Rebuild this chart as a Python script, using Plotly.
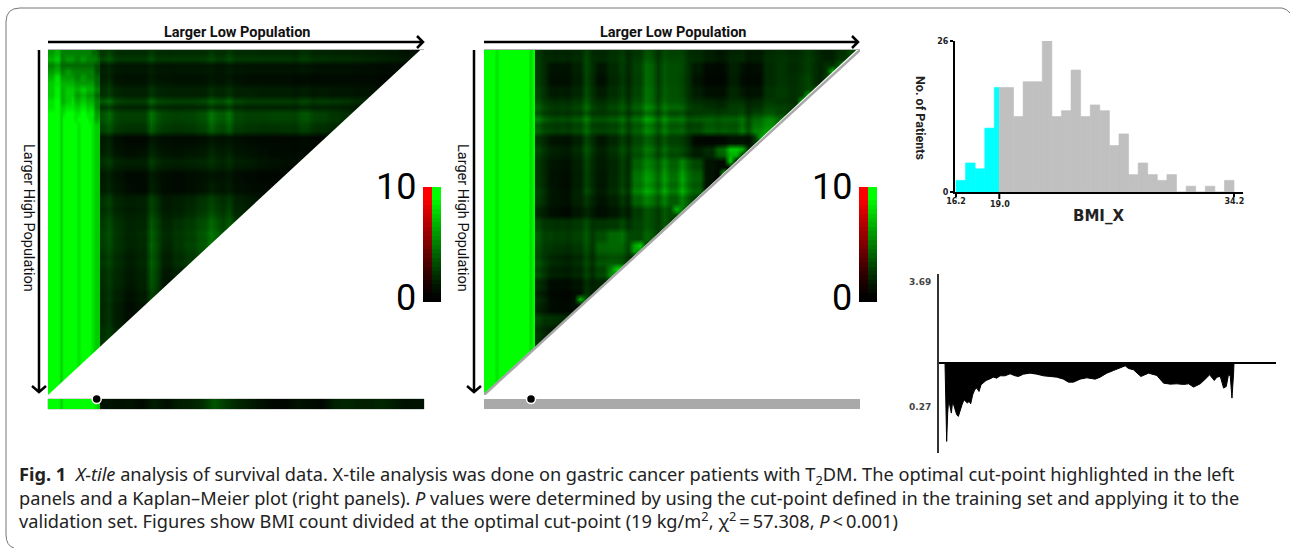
import plotly.graph_objects as go

W, H = 1290, 548

# ---------- data ----------
# X-tile maps: chi-square intensity 0-10. Rows run top to bottom, each row stops at the diagonal.
left_strip_top = [
    [6,6,7,7,5,5,5,5,5,5,5,5,5,5,5,4,4,3],
    [7,7,8,8,5,5,6,6,6,5,5,6,6,5,5,5,5,4],
    [5,5,6,6,4,4,4,4,4,4,4,4,4,4,4,4,3,3],
    [6,6,7,7,5,5,6,6,5,5,5,5,5,5,5,5,3,3],
    [7,7,9,9,6,6,6,6,6,5,5,6,6,5,5,5,4,4],
    [8,8,9,9,7,7,7,7,7,6,6,6,6,6,6,6,4,4],
    [8,8,9.5,9.5,7,7,8,8,8,7,7,8,8,7,7,7,5,5],
    [8,8,9.5,9.5,7,7,8,8,8,6,6,7,7,6,6,6,4,4],
    [9,9,10,10,7,7,8,8,9,7,7,8,8,7,7,7,5,5],
    [9,9,10,10,8,8,9,9,9,8,8,9,9,8,8,8,5,5],
    [10,10,10,10,8,9,10,10,10,9,9,10,10,9,9,9,6,6],
    [10,10,10,10,8,10,10,10,10,9,10,10,10,10,9,9,6,7],
]
left_strip_body = [10,10,10,10,8,10,10,10,10,10,9,10,10,10,10,9,8,8]
right_strip_body = [10,10,10,10,9,10,10,10,10,10,10,10,10,10,10,10,8.5,10]

left_rows = [
    [2.0,1.6,1.5,1.5,1.6,1.5,1.5,1.5,1.5,1.6,1.6,1.5,1.5,1.4,1.4,1.4,1.4,1.4,1.3,1.2,1.2,1.1,1.0,.9,.8,.6,.5],
    [1.2,.9,.8,.8,.9,.8,.8,.8,.8,.8,.8,.8,.7,.7,.7,.7,.7,.7,.6,.6,.6,.5,.5,.4,.4,.3],
    [1.0,.6,.5,.5,.7,.6,.5,.5,.5,.6,.6,.5,.4,.4,.4,.4,.3,.3,.3,.3,.3,.3,.3,.2,.2],
    [1.6,1.2,1.0,1.0,1.3,1.1,1.0,1.0,1.0,1.2,1.2,1.0,1.0,.9,.9,.9,.8,.8,.8,.7,.7,.6,.6,.5],
    [2.2,1.7,1.4,1.4,1.9,1.6,1.5,1.5,1.6,1.9,1.9,1.6,1.4,1.4,1.4,1.4,1.4,1.4,1.4,1.3,1.2,1.0,.9],
    [2.6,2.0,1.8,1.8,2.6,2.0,1.8,1.9,2.2,2.8,2.6,2.0,1.8,1.8,1.9,1.9,2.0,2.1,1.8,1.5,1.3,1.0],
    [2.4,1.9,1.6,1.6,2.5,1.9,1.7,1.8,2.1,2.6,2.4,1.9,1.7,1.6,1.6,1.7,1.8,1.8,1.5,1.3,1.1],
    [1.0,.5,.3,.3,.7,.5,.4,.4,.5,.7,.6,.5,.4,.3,.3,.3,.3,.3,.2,.2],
    [1.0,.6,.4,.5,.9,.6,.5,.6,.7,.9,.8,.6,.5,.4,.3,.3,.3,.2,.2],
    [1.5,1.1,.9,.9,1.4,1.0,.9,1.0,1.1,1.2,1.1,.9,.8,.6,.5,.4,.4,.3],
    [.9,.6,.3,.3,.7,.4,.3,.4,.5,.6,.6,.4,.3,.2,.2,.2,.2],
    [1.0,.7,.4,.3,.8,.4,.3,.4,.6,.8,.7,.5,.4,.3,.3,.3],
    [1.7,1.2,.9,1.0,1.6,.8,.9,1.1,1.5,1.7,1.4,1.0,.8,.6,.5],
    [1.6,1.2,.9,1.0,1.7,.9,1.0,1.3,1.7,2.0,1.7,1.2,.9,.7],
    [2.0,1.6,1.1,1.2,2.2,1.2,1.5,1.8,2.3,2.7,2.2,1.7,1.3],
    [2.1,1.6,1.1,1.3,2.3,1.3,1.6,1.9,2.5,3.0,2.6,2.2],
    [1.9,1.5,1.0,1.2,2.3,1.1,1.5,1.9,2.4,2.9,2.6],
    [1.8,1.4,.9,1.2,2.3,1.0,1.4,1.8,2.2,2.6],
    [1.6,1.3,.8,1.1,2.2,.8,1.1,1.6,1.8],
    [1.5,1.2,.7,1.0,2.0,.6,.9,1.2],
    [1.4,1.0,.5,.8,1.6,.5,.7],
    [1.4,.9,.4,.7,1.2,.5],
    [1.4,.9,.4,.7,1.2],
    [1.6,1.1,.6,.9],
    [1.8,1.2],
]
right_rows = [
    [1.5,1.3,1.3,1.4,1.8,1.3,1.6,1.6,1.8,2.4,2.0,2.2,1.8,1.4,1.0,.8,1.2,1.0,.9,1.3,1.6,1.4,1.6,1.3,1.0,1.6,2.5],
    [1.5,.6,.6,1.0,1.8,.7,1.3,1.5,2.0,2.8,2.2,2.4,1.8,.8,.3,.3,1.0,.4,.4,1.2,1.6,1.3,1.6,1.2,1.5,2.5],
    [1.5,.5,.5,.9,1.7,.5,1.2,1.4,1.9,2.8,2.2,2.4,1.7,.6,.2,.2,.9,.3,.3,1.2,1.6,1.4,1.8,1.2,2.0],
    [1.7,.9,.9,1.2,1.9,.9,1.4,1.6,2.1,3.0,2.3,2.5,1.8,.9,.5,.5,1.2,.6,.6,1.4,1.8,1.5,1.8,2.0],
    [2.0,1.5,1.5,1.7,2.2,1.4,1.8,1.9,2.4,3.0,2.5,2.6,2.0,1.4,1.2,1.1,1.5,1.2,1.2,1.6,1.6,1.4,3.5],
    [2.6,2.0,2.0,2.2,2.6,2.0,2.3,2.3,2.8,3.5,3.0,2.8,2.4,2.2,2.4,2.4,2.4,2.2,2.6,3.0,2.6,2.0],
    [2.2,1.8,1.8,2.0,2.4,1.8,2.0,2.2,2.6,3.2,2.8,2.6,2.2,2.0,2.6,2.6,2.4,2.6,3.6,4.0,3.0],
    [1.4,.7,.6,1.0,1.8,.7,1.2,1.6,2.2,2.6,2.2,2.0,1.5,.3,.2,.3,.6,.5,1.6,3.5],
    [1.6,1.0,.8,1.2,1.9,.9,1.4,1.8,2.3,2.8,2.4,2.2,1.6,.8,1.2,3.0,5.5,1.5,1.0],
    [1.4,.7,.5,1.0,1.7,.8,1.2,1.6,3.0,3.5,3.4,3.0,3.4,2.2,.6,.4,.3,.6],
    [1.4,.6,.4,.9,1.6,.7,1.2,1.6,3.5,4.0,3.8,3.4,4.0,2.8,.6,.2,.4],
    [1.4,.6,.4,.9,1.6,.7,1.2,1.6,3.4,3.8,3.6,3.2,3.8,2.6,.5,.3],
    [1.5,.7,.5,1.0,1.4,.6,1.0,1.4,3.0,3.4,3.2,2.8,3.2,2.0,.8],
    [1.0,.5,.3,.7,1.0,.4,.7,1.0,1.8,2.2,2.2,2.2,3.0,5.0],
    [1.8,1.6,1.6,1.7,1.9,1.6,1.7,1.8,2.0,2.2,2.2,2.0,2.2],
    [2.2,2.0,1.9,2.0,2.2,2.4,3.2,2.8,2.2,2.6,2.2,3.0],
    [2.4,2.0,1.8,2.0,2.4,3.6,3.8,3.0,6.0,2.0,2.0],
    [1.8,1.2,1.0,1.2,1.6,2.2,2.4,1.8,1.2,1.0],
    [1.6,.9,.8,1.0,1.4,1.8,3.5,5.5,1.0],
    [1.0,.3,.3,.5,1.0,1.0,1.2,.8],
    [1.0,.3,.2,.4,1.6,.8,.6],
    [1.0,.4,.3,.5,1.4,.6],
    [1.8,1.6,1.4,4.5,2.0],
    [1.2,.8,.6,1.4],
    [1.2,1.0,2.5],
]
# fine stripes across the coarse cells: two sub-columns per cell, two sub-rows per cell
left_col_stripes = [.9,1.15,1,.9,1,1,1,1,1.25,.9,1,.95,1,1,1,1,1,1.05,1.2,.95,.95,1.25,1,1,1,1,1,1,1,1,1,1,.9,1.15,1.15,.9,1,1,1,1,1,1,1,1,1,1,1,1,1,1,1,1,1,1]
left_row_stripes = [.9,1.2,.8,.9,1,1.25,1,1,1.35,.75,1.1,1.1,1,.9,.8,1,1,1.2,1.1,.9,1,1,1,1,.95,1.05,.95,1.1,1,1,1.05,1,1.1,1,.95,1.05,1,.95,1.05,1,1,1.05,.95,1,1,1,1,1,1,1]
right_col_stripes = [1.25,.9,1,.9,1,.9,1,1,1.25,.8,1,1,1,1,1.25,.8,1,1,1.2,1.05,.8,1.25,1,1,1.25,.85,1,1,1,1,.9,1,1,1,1.3,.8,1,1,1.1,1.1,1,1,1,1,1,1.2,1.2,.9,1,1,1,1,1,1]
right_row_stripes = [.9,1,1,1,1,1,1,1,1,1.25,.8,1.25,1,1.15,.95,1,1.15,1,1,1,1,1.05,1,1.2,1,1,1,1,1,1,1,1,.85,.8,1,1.2,1.1,1.25,1.15,1.25,.8,1.2,1,.85,1,.9,1,1.15,1,1]
# small bright spots along the right diagonal: (sub-row, sub-column, value)
right_hot_spots = [(2,51,7),(3,49,7),(7,45,7),(8,44,7),(14,38,7),(14,37,6),(16,34,7),(18,32,8),(20,31,7),(26,23,7),(32,17,8),(36,13,8),(41,7,7)]
left_bar_green = [10,10,10,10,8,10,10,10,10,10,10,10,10,10,10,10,9,8]
left_bar_dark = [.6,.5,.6,.3,.9,.4,.9,1.0,1.4,2.6,1.8,1.2,.8,.5,.2,.2,.6,.4,.2,1.0,1.2,1.0,1.0,1.2,.8,.5,.6]
scale_levels = [0,.2,.5,.8,1.2,1.6,2,2.4,2.9,3.3,3.8,4.2,4.7,5.1,5.6,6,6.5,7,7.4,7.9,8.4,8.9,9.4,10,10,10]
map_gain = 1.25

# Histogram of BMI
bmi_low_counts = [2, 5, 4, 11, 18]
bmi_high_counts = [18, 18, 13, 19, 19, 26, 13, 14, 21, 13, 15, 14, 8, 10, 3, 5, 3, 2, 3, 0, 1, 0, 1, 0, 2]
bmi_start, bmi_bin, bmi_cut, bmi_end = 16.2, 0.62, 19.0, 34.2

# Hazard curve: rank along the cut points, signed height from baseline
curve_rank = [135,136,138,140,143,146,150,154,158,162,166,170,175,180,186,192,197,202,207,212,218,224,230,237,243,250,258,268,280,290,300,315,330,345,355,370,390,410,430,450,470,490,505,520,540,560,585,600,620,640,660,675,685,700,722,745,770,790,810,830,850,865,880,900,915,928,942,950,960,970,978,985,990,995,1000,1001]
curve_height = [0,-40,-205,-235,-150,-110,-130,-150,-115,-130,-140,-155,-160,-140,-125,-110,-115,-120,-115,-122,-95,-80,-75,-85,-65,-60,-52,-48,-42,-45,-38,-38,-32,-38,-40,-33,-30,-33,-38,-40,-42,-48,-57,-57,-48,-44,-48,-42,-30,-22,-15,-8,-16,-20,-40,-30,-37,-60,-63,-62,-64,-62,-72,-62,-48,-35,-52,-42,-40,-75,-70,-32,-40,-105,-30,0]
curve_ticks = [243, -130]
curve_labels = ["3.69", "0.27"]

# ---------- helpers ----------
def px(x): return x / W
def py(y): return 1 - y / H
def dom_x(a, b): return [px(a), px(b)]
def dom_y(top, bottom): return [py(bottom), py(top)]

RGB = [[0, "#ff0000"], [0.5, "#000000"], [1, "#00ff00"]]
NO = dict(visible=False, fixedrange=True)
SANS = "Roboto"
fig = go.Figure()

def heat(z, xa, ya, x0, dx, y0, dy, smooth="best"):
    fig.add_trace(go.Heatmap(z=z, x0=x0, dx=dx, y0=y0, dy=dy, xaxis=xa, yaxis=ya, colorscale=RGB,
                             zmin=-10, zmax=10, showscale=False, zsmooth=smooth, hoverinfo="skip"))

def pad(rows, n=27):
    return [r + [r[-1]] * (n - len(r)) for r in rows]

def refine(rows, col_stripes, row_stripes, hot=()):
    out = []
    for i, r in enumerate(pad(rows)):
        for m in range(2):
            out.append([min(10, r[j] * map_gain * col_stripes[2 * j + k] * row_stripes[2 * i + m])
                        for j in range(27) for k in range(2)])
    for row, col, v in hot:
        out[row][col] = v
    return out

def triangle(xa, ya, x_cut, fine, strip):
    dx_d = 6 / 376 * 100
    dy_d = 6 / 345 * 100
    heat(fine, xa, ya, x_cut + dx_d / 2, dx_d, dy_d / 2, dy_d)
    dx_s = x_cut / 18
    heat(strip, xa, ya, dx_s / 2, dx_s, dy_d / 2, dy_d)
    fig.add_trace(go.Scatter(x=[100, 100, -1, 100], y=[-1, 101, 101, -1], xaxis=xa, yaxis=ya, mode="lines",
                             fill="toself", fillcolor="#ffffff", line=dict(width=0, color="#ffffff"), hoverinfo="skip"))

n_strip_rows = 58
left_cut = 52 / 376 * 100
right_cut = 51 / 376 * 100
triangle("x", "y", left_cut, refine(left_rows, left_col_stripes, left_row_stripes),
         left_strip_top + [left_strip_body] * (n_strip_rows - len(left_strip_top)))
triangle("x3", "y3", right_cut, refine(right_rows, right_col_stripes, right_row_stripes, right_hot_spots),
         [right_strip_body] * n_strip_rows)
fig.add_trace(go.Scatter(x=[0, 100], y=[100, 0], xaxis="x3", yaxis="y3", mode="lines",
                         line=dict(color="#a8a8a8", width=2.5), hoverinfo="skip"))

# position bars
dx_d = 12 / 376 * 100
heat([left_bar_green], "x2", "y2", left_cut / 36, left_cut / 18, 0, 1)
heat([[min(10, v * map_gain) for v in left_bar_dark]], "x2", "y2", left_cut + dx_d / 2, dx_d, 0, 1)

# cut-point dots
for xa, ya, xv in (("x2", "y2", 12.95), ("x4", "y4", 12.5)):
    fig.add_trace(go.Scatter(x=[xv], y=[0.5], xaxis=xa, yaxis=ya, mode="markers", cliponaxis=False,
                             marker=dict(size=9, color="#000000", line=dict(color="#ffffff", width=1.5)), hoverinfo="skip"))

# colour scales
scale_z = [[-v, v] for v in scale_levels]
heat(scale_z, "x5", "y5", 0, 1, 0, 1, False)
heat(scale_z, "x6", "y6", 0, 1, 0, 1, False)

# histogram
low_edges = [bmi_start + bmi_bin * i for i in range(len(bmi_low_counts))]
low_widths = [bmi_bin] * (len(bmi_low_counts) - 1) + [bmi_cut - low_edges[-1]]
high_edges = [bmi_cut] + [bmi_start + bmi_bin * (i + 4) for i in range(1, len(bmi_high_counts))]
high_widths = [low_edges[-1] + bmi_bin - bmi_cut] + [bmi_bin] * (len(bmi_high_counts) - 1)
fig.add_trace(go.Bar(x=low_edges, y=bmi_low_counts, width=low_widths, offset=0, marker=dict(color="#00ffff", line=dict(width=0.6, color="#00ffff")),
                     xaxis="x7", yaxis="y7", hoverinfo="skip"))
fig.add_trace(go.Bar(x=high_edges, y=bmi_high_counts, width=high_widths, offset=0, marker=dict(color="#c0c0c0", line=dict(width=0.6, color="#c0c0c0")),
                     xaxis="x7", yaxis="y7", hoverinfo="skip"))

# hazard curve
fig.add_trace(go.Scatter(x=curve_rank, y=curve_height, xaxis="x8", yaxis="y8", mode="lines", fill="tozeroy",
                         fillcolor="#000000", line=dict(color="#000000", width=1), hoverinfo="skip"))

# ---------- axes ----------
layout = dict(
    template="none",
    width=W, height=H, margin=dict(l=0, r=0, t=0, b=0, pad=0, autoexpand=False), paper_bgcolor="#ffffff", plot_bgcolor="#ffffff",
    showlegend=False, barmode="overlay",
    xaxis=dict(domain=dom_x(48, 424), range=[0, 100], side="top", showline=True, linecolor="#b5b5b5", linewidth=1,
               showticklabels=False, ticks="", showgrid=False, zeroline=False, fixedrange=True, anchor="y"),
    yaxis=dict(domain=dom_y(50, 395), range=[100, 0], visible=False, fixedrange=True, anchor="x"),
    xaxis2=dict(domain=dom_x(48, 424), range=[0, 100], anchor="y2", **NO),
    yaxis2=dict(domain=dom_y(399, 409), range=[-0.5, 0.5], anchor="x2", **NO),
    xaxis3=dict(domain=dom_x(484, 860), range=[0, 100], side="top", showline=True, linecolor="#b5b5b5", linewidth=1,
                showticklabels=False, ticks="", showgrid=False, zeroline=False, fixedrange=True, anchor="y3"),
    yaxis3=dict(domain=dom_y(50, 395), range=[100, 0], visible=False, fixedrange=True, anchor="x3"),
    xaxis4=dict(domain=dom_x(484, 860), range=[0, 100], anchor="y4", **NO),
    yaxis4=dict(domain=dom_y(399, 409), range=[-0.5, 0.5], anchor="x4", **NO),
    xaxis5=dict(domain=dom_x(423, 441), range=[-0.5, 1.5], anchor="y5", **NO),
    yaxis5=dict(domain=dom_y(187, 302), range=[-0.5, len(scale_levels) - 0.5], anchor="x5", **NO),
    xaxis6=dict(domain=dom_x(859, 877), range=[-0.5, 1.5], anchor="y6", **NO),
    yaxis6=dict(domain=dom_y(187, 302), range=[-0.5, len(scale_levels) - 0.5], anchor="x6", **NO),
    xaxis7=dict(domain=dom_x(955, 1243), range=[16.135, 34.76], anchor="y7", showline=True, linecolor="#000000", linewidth=2,
                tickvals=[16.2, 34.2], ticktext=["16.2", "34.2"], ticks="outside", ticklen=3, tickwidth=2, tickcolor="#000000",
                ticklabelstandoff=-3,
                tickfont=dict(family="DejaVu Sans", size=8, color="#222222", weight="bold"), showgrid=False, zeroline=False, fixedrange=True),
    yaxis7=dict(domain=dom_y(41, 192), range=[0, 26], anchor="x7", showline=True, linecolor="#000000", linewidth=2,
                tickvals=[0, 26], ticktext=["0", "26"], ticks="outside", ticklen=3, tickwidth=2, tickcolor="#000000",
                tickfont=dict(family="DejaVu Sans", size=8, color="#222222", weight="bold"), showgrid=False, zeroline=False, fixedrange=True),
    xaxis8=dict(domain=dom_x(939, 1276), range=[117, 1127], anchor="y8", **NO),
    yaxis8=dict(domain=dom_y(274, 453), range=[-270, 268], anchor="x8", showline=True, linecolor="#333333", linewidth=2,
                tickvals=curve_ticks, ticktext=curve_labels, ticks="outside", ticklen=4, tickcolor="#ffffff",
                tickfont=dict(family="DejaVu Sans", size=9, color="#444444", weight="bold"), showgrid=False,
                zeroline=True, zerolinecolor="#000000", zerolinewidth=2, fixedrange=True),
)

# ---------- arrows, frame, bar shapes ----------
def P(x, y): return f"{px(x):.5f},{py(y):.5f}"
def path(d, color="#000000", width=2.5):
    return dict(type="path", xref="paper", yref="paper", path=d, line=dict(color=color, width=width))

shapes = []
for x0, x1, xd in ((48, 423, 39), (484, 858, 474)):
    shapes.append(path(f"M{P(x0, 42)} L{P(x1, 42)} M{P(x1 - 6, 36)} L{P(x1, 42)} L{P(x1 - 6, 48)}"))
    shapes.append(path(f"M{P(xd, 50)} L{P(xd, 392)} M{P(xd - 7, 386)} L{P(xd, 392)} L{P(xd + 7, 386)}"))
shapes.append(path(f"M{P(14, 548)} Q{P(6, 546)} {P(6, 534)} L{P(6, 22)} Q{P(6, 8)} {P(20, 8)} L{P(1282, 8)} Q{P(1287, 9)} {P(1290, 13)}", "#777777", 1))
# grey position bar of the right panel
shapes.append(dict(type="rect", xref="x3", yref="paper", x0=0, x1=100, y0=py(409), y1=py(399), fillcolor="#a9a9a9", line=dict(width=0), layer="below"))
# outline of the left position bar
shapes.append(dict(type="rect", xref="paper", yref="paper", x0=px(48), x1=px(424), y0=py(409), y1=py(399), line=dict(color="#b5b5b5", width=1), fillcolor="rgba(0,0,0,0)", layer="below"))
# cut tick of the histogram
shapes.append(dict(type="line", xref="x7", yref="paper", x0=bmi_cut, x1=bmi_cut, y0=py(192), y1=py(199), line=dict(color="#000000", width=2)))
layout["shapes"] = shapes

# ---------- text ----------
def note(text, x, y, size, family=SANS, color="#000000", anchor="center", angle=0, weight=None, yanchor="middle", align="center"):
    f = dict(family=family, size=size, color=color)
    if weight: f["weight"] = weight
    return dict(text=text, xref="paper", yref="paper", x=px(x), y=py(y), xanchor=anchor, yanchor=yanchor, showarrow=False,
                font=f, textangle=angle, borderpad=0, borderwidth=0, align=align)

cap_font = "Noto Sans"
cap_size = 18.2
caption = ("<b>Fig. 1</b>  <i>X-tile</i> analysis of survival data. X-tile analysis was done on gastric cancer patients with T<sub>2</sub>DM. The optimal cut-point highlighted in the left<br>"
           "panels and a Kaplan\u2013Meier plot (right panels). <i>P</i> values were determined by using the cut-point defined in the training set and applying it to the<br>"
           "validation set. Figures show BMI count divided at the optimal cut-point (19 kg/m<sup>2</sup>, \u03c7<sup>2</sup>\u2009=\u200957.308, <i>P</i>\u2009&lt;\u20090.001)")
ann = [
    note("Larger Low Population", 237, 32, 14.5, weight="bold", color="#111111"),
    note("Larger Low Population", 673, 32, 14.5, weight="bold", color="#111111"),
    note("Larger High Population", 29, 218, 14.5, angle=90, color="#111111"),
    note("Larger High Population", 463, 218, 14.5, angle=90, color="#111111"),
    note("10", 416, 187, 36, anchor="right"),
    note("0", 416, 298, 36, anchor="right"),
    note("10", 852, 187, 36, anchor="right"),
    note("0", 852, 298, 36, anchor="right"),
    note("No. of Patients", 921, 118, 12.5, angle=90, weight="bold", color="#222222"),
    note("BMI_X", 1098, 216, 15, family="DejaVu Sans", weight="bold", color="#222222"),
    note("19.0", 1000, 205, 8, family="DejaVu Sans", weight="bold", color="#222222"),
    note(caption, 19, 498, cap_size, family=cap_font, color="#222222", anchor="left", align="left"),
]
layout["annotations"] = ann
fig.update_layout(**layout)

fig.write_html("out.html", config=dict(displayModeBar=False, staticPlot=True),
               post_script="document.body.style.margin='0';document.documentElement.style.overflow='hidden';")
